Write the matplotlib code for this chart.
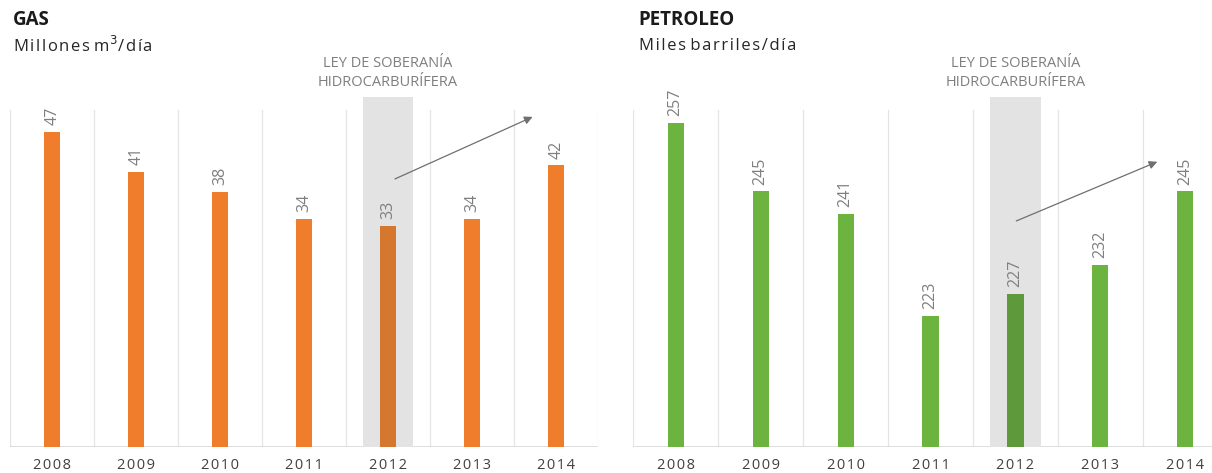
import matplotlib
matplotlib.use('Agg')
import matplotlib.pyplot as plt

plt.rcParams['font.family'] = ['Open Sans', 'DejaVu Sans']

years = ['2008', '2009', '2010', '2011', '2012', '2013', '2014']
gas = [47, 41, 38, 34, 33, 34, 42]
petroleo = [257, 245, 241, 223, 227, 232, 245]

ley_text = 'LEY DE SOBERANÍA\nHIDROCARBURÍFERA'
ley_year = '2012'

fig = plt.figure(figsize=(12.12, 4.73), dpi=100)

def spaced(s):
    return '\u200a'.join(s)

def panel(rect, values, color, dark, ylim, arrow):
    ax = fig.add_axes(rect)
    x = range(len(years))
    k = years.index(ley_year)
    colors = [dark if y == ley_year else color for y in years]
    ax.bar(x, values, width=0.19, color=colors, zorder=2)
    ax.set_xlim(-0.5, len(years) - 0.5)
    ax.set_ylim(*ylim)
    span = ylim[1] - ylim[0]
    for i, v in enumerate(values):
        ax.text(i, v + span * 0.02, str(v), rotation=90, ha='center', va='bottom',
                fontsize=11.5, color='#7f7f7f', zorder=4)
    # category separators
    for b in range(len(years) + 1):
        ax.axvline(b - 0.5, ymax=0.985, color='#e4e4e4', lw=0.9, zorder=0)
    ax.axhline(ylim[0], color='#d9d9d9', lw=1.2, zorder=1)
    # shaded band for the law year
    ax.axvspan(k - 0.3, k + 0.3, ymin=0, ymax=1.024, color='#e3e3e3',
               lw=0, zorder=1, clip_on=False)
    ax.text(k, ylim[1] + span * 0.045, ley_text, ha='center', va='bottom',
            fontsize=10.5, color='#7f7f7f', linespacing=1.35)
    ax.annotate('', xy=arrow[1], xytext=arrow[0],
                arrowprops=dict(arrowstyle='-|>', color='#6f6f6f', lw=0.9,
                                mutation_scale=12), zorder=5)
    ax.set_xticks(list(x))
    ax.set_xticklabels([spaced(y) for y in years], fontsize=10.5, color='#404040')
    ax.tick_params(axis='x', length=0, pad=8)
    ax.set_yticks([])
    for s in ax.spines.values():
        s.set_visible(False)
    return ax

panel([0.0085, 0.055, 0.485, 0.723], gas, '#f07d2c', '#d6772f', (0, 51.0),
      ((4.05, 39.8), (5.75, 49.4)))
panel([0.5225, 0.055, 0.4905, 0.723], petroleo, '#6cb43f', '#5e9a3b', (200, 260.2),
      ((3.98, 239.6), (5.70, 250.4)))

fig.text(0.0105, 0.957, 'GAS', fontsize=13.5, fontweight='bold', color='#1a1a1a', va='center')
fig.text(0.0105, 0.903, spaced('Millones') + ' ' + spaced('m') + '$^3$' + spaced('/día'),
         fontsize=12, color='#262626', va='center')
fig.text(0.527, 0.957, 'PETROLEO', fontsize=13.5, fontweight='bold', color='#1a1a1a', va='center')
fig.text(0.527, 0.903, spaced('Miles') + ' ' + spaced('barriles/día'),
         fontsize=12, color='#262626', va='center')

fig.savefig('out.png', dpi=100)
